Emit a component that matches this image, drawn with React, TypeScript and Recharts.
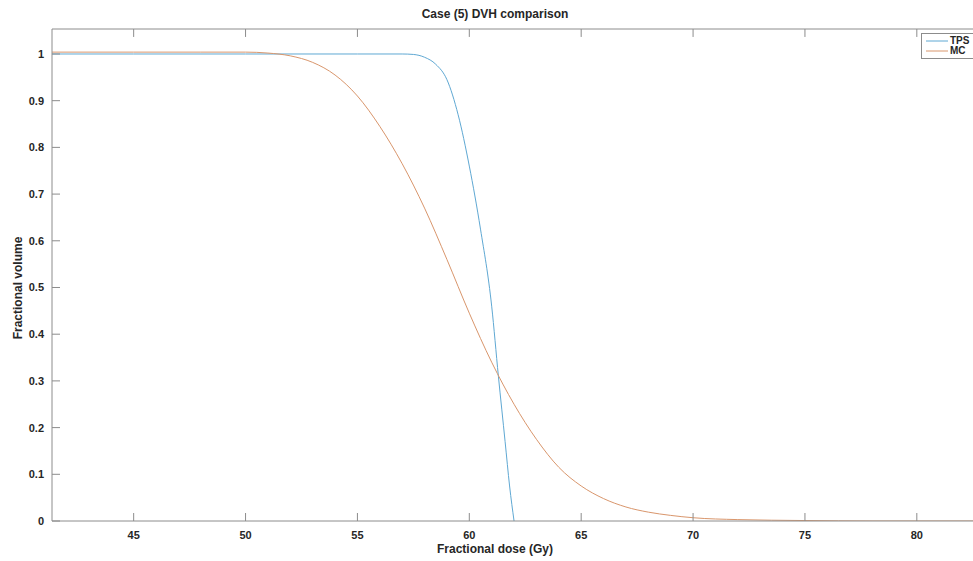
import React from 'react';
import { LineChart, Line, XAxis, YAxis, ReferenceLine } from 'recharts';

// TPS dose-volume curve
const tpsDose = [41.35, 45, 50, 55, 57, 57.5, 58, 58.5, 59, 59.5, 60, 60.5, 61, 61.3, 61.6, 61.8, 62];
const tpsVolume = [1, 1, 1, 1, 1, 0.999, 0.993, 0.978, 0.945, 0.87, 0.76, 0.625, 0.46, 0.31, 0.17, 0.075, 0];

// Monte Carlo dose-volume curve
const mcDose = [41.35, 45, 48, 50, 51, 52, 53, 54, 55, 56, 57, 58, 59, 60, 61, 62, 63, 64, 65, 66, 67, 68, 69, 70, 72, 75, 78, 82.6];
const mcVolume = [1.004, 1.004, 1.004, 1.004, 1.002, 0.996, 0.982, 0.955, 0.91, 0.845, 0.765, 0.67, 0.56, 0.445, 0.34, 0.25, 0.175, 0.115, 0.075, 0.048, 0.03, 0.019, 0.012, 0.007, 0.003, 0.001, 0, 0];

const xTicks = [45, 50, 55, 60, 65, 70, 75, 80];
const yTicks = [0, 0.1, 0.2, 0.3, 0.4, 0.5, 0.6, 0.7, 0.8, 0.9, 1];

const X_DOMAIN: [number, number] = [41.35, 82.6];
const Y_DOMAIN: [number, number] = [0, 1.0535];

const tpsData = tpsDose.map((d, i) => ({ dose: d, volume: tpsVolume[i] }));
const mcData = mcDose.map((d, i) => ({ dose: d, volume: mcVolume[i] }));

const AXIS = '#8c8c8c';
const TEXT = '#262626';
const FONT = 'Liberation Sans, Arial, sans-serif';
const TPS_COLOR = '#5fa8d3';
const MC_COLOR = '#d9966c';

const PLOT_BOTTOM = 521;
const PLOT_LEFT = 52;
// top tick length (~8px) in data units
const Y_TICK_LEN = 0.017;

// bottom ticks point inward (up), like matlab
const bottomTick = (props: any) => {
  const { x, payload } = props;
  return (
    <g key={`b-${payload.value}`}>
      <path d={`M${x},${PLOT_BOTTOM}V${PLOT_BOTTOM - 8}`} stroke={AXIS} strokeWidth={1} fill="none" />
      <text x={x} y={PLOT_BOTTOM + 18} textAnchor="middle" fontSize={11} fontWeight="bold" fill={TEXT} fontFamily={FONT}>
        {payload.value}
      </text>
    </g>
  );
};

const leftTick = (props: any) => {
  const { y, payload } = props;
  return (
    <g key={`l-${payload.value}`}>
      <path d={`M${PLOT_LEFT},${y}H${PLOT_LEFT + 8}`} stroke={AXIS} strokeWidth={1} fill="none" />
      <text x={PLOT_LEFT - 8} y={y + 4} textAnchor="end" fontSize={11} fontWeight="bold" fill={TEXT} fontFamily={FONT}>
        {payload.value}
      </text>
    </g>
  );
};

const series = [
  { name: 'TPS', color: TPS_COLOR },
  { name: 'MC', color: MC_COLOR },
];

export default function App() {
  return (
    <div style={{ position: 'absolute', left: 0, top: 0, width: 973, height: 561, overflow: 'hidden', background: '#fff' }}>
      <LineChart width={980} height={561} margin={{ top: 29, right: 5, bottom: 0, left: 0 }}>
        <XAxis
          dataKey="dose"
          type="number"
          domain={X_DOMAIN}
          ticks={xTicks}
          allowDataOverflow
          height={40}
          tickSize={0}
          tickLine={false}
          axisLine={{ stroke: AXIS }}
          tick={bottomTick}
          interval={0}
        />
        <YAxis
          type="number"
          domain={Y_DOMAIN}
          ticks={yTicks}
          allowDataOverflow
          width={52}
          tickSize={0}
          tickLine={false}
          axisLine={{ stroke: AXIS }}
          tick={leftTick}
          interval={0}
        />
        {/* box top edge + its inward ticks */}
        <ReferenceLine y={Y_DOMAIN[1]} stroke={AXIS} strokeWidth={1} ifOverflow="visible" />
        {xTicks.map((t) => (
          <ReferenceLine
            key={`xt-${t}`}
            segment={[{ x: t, y: Y_DOMAIN[1] }, { x: t, y: Y_DOMAIN[1] - Y_TICK_LEN }]}
            stroke={AXIS}
            strokeWidth={1}
            ifOverflow="visible"
          />
        ))}
        <Line
          data={tpsData}
          dataKey="volume"
          name="TPS"
          type="monotone"
          stroke={TPS_COLOR}
          strokeWidth={1}
          dot={false}
          isAnimationActive={false}
        />
        <Line
          data={mcData}
          dataKey="volume"
          name="MC"
          type="monotone"
          stroke={MC_COLOR}
          strokeWidth={1}
          dot={false}
          isAnimationActive={false}
        />
      </LineChart>

      {/* legend box, cut by the right edge like the original */}
      <div
        style={{
          position: 'absolute',
          left: 921,
          top: 33,
          width: 70,
          border: `1px solid ${AXIS}`,
          background: '#fff',
          padding: '2px 4px',
          fontFamily: FONT,
          fontSize: 10,
          fontWeight: 'bold',
          color: TEXT,
          lineHeight: '10px',
        }}
      >
        {series.map((s) => (
          <div key={s.name} style={{ display: 'flex', alignItems: 'center' }}>
            <svg width={22} height={10}>
              <line x1={0} x2={22} y1={5} y2={5} stroke={s.color} strokeWidth={1} />
            </svg>
            <span style={{ marginLeft: 2 }}>{s.name}</span>
          </div>
        ))}
      </div>

      <div style={{ position: 'absolute', left: 0, width: 990, top: 7, textAlign: 'center', fontFamily: FONT, fontSize: 12, fontWeight: 'bold', color: TEXT }}>
        Case (5) DVH comparison
      </div>
      <div style={{ position: 'absolute', left: 0, width: 990, top: 543, lineHeight: '12px', textAlign: 'center', fontFamily: FONT, fontSize: 12, fontWeight: 'bold', color: TEXT }}>
        Fractional dose (Gy)
      </div>
      <div
        style={{
          position: 'absolute',
          left: 18,
          top: 288,
          transform: 'translate(-50%, -50%) rotate(-90deg)',
          whiteSpace: 'nowrap',
          fontFamily: FONT,
          fontSize: 12,
          fontWeight: 'bold',
          color: TEXT,
        }}
      >
        Fractional volume
      </div>
    </div>
  );
}
